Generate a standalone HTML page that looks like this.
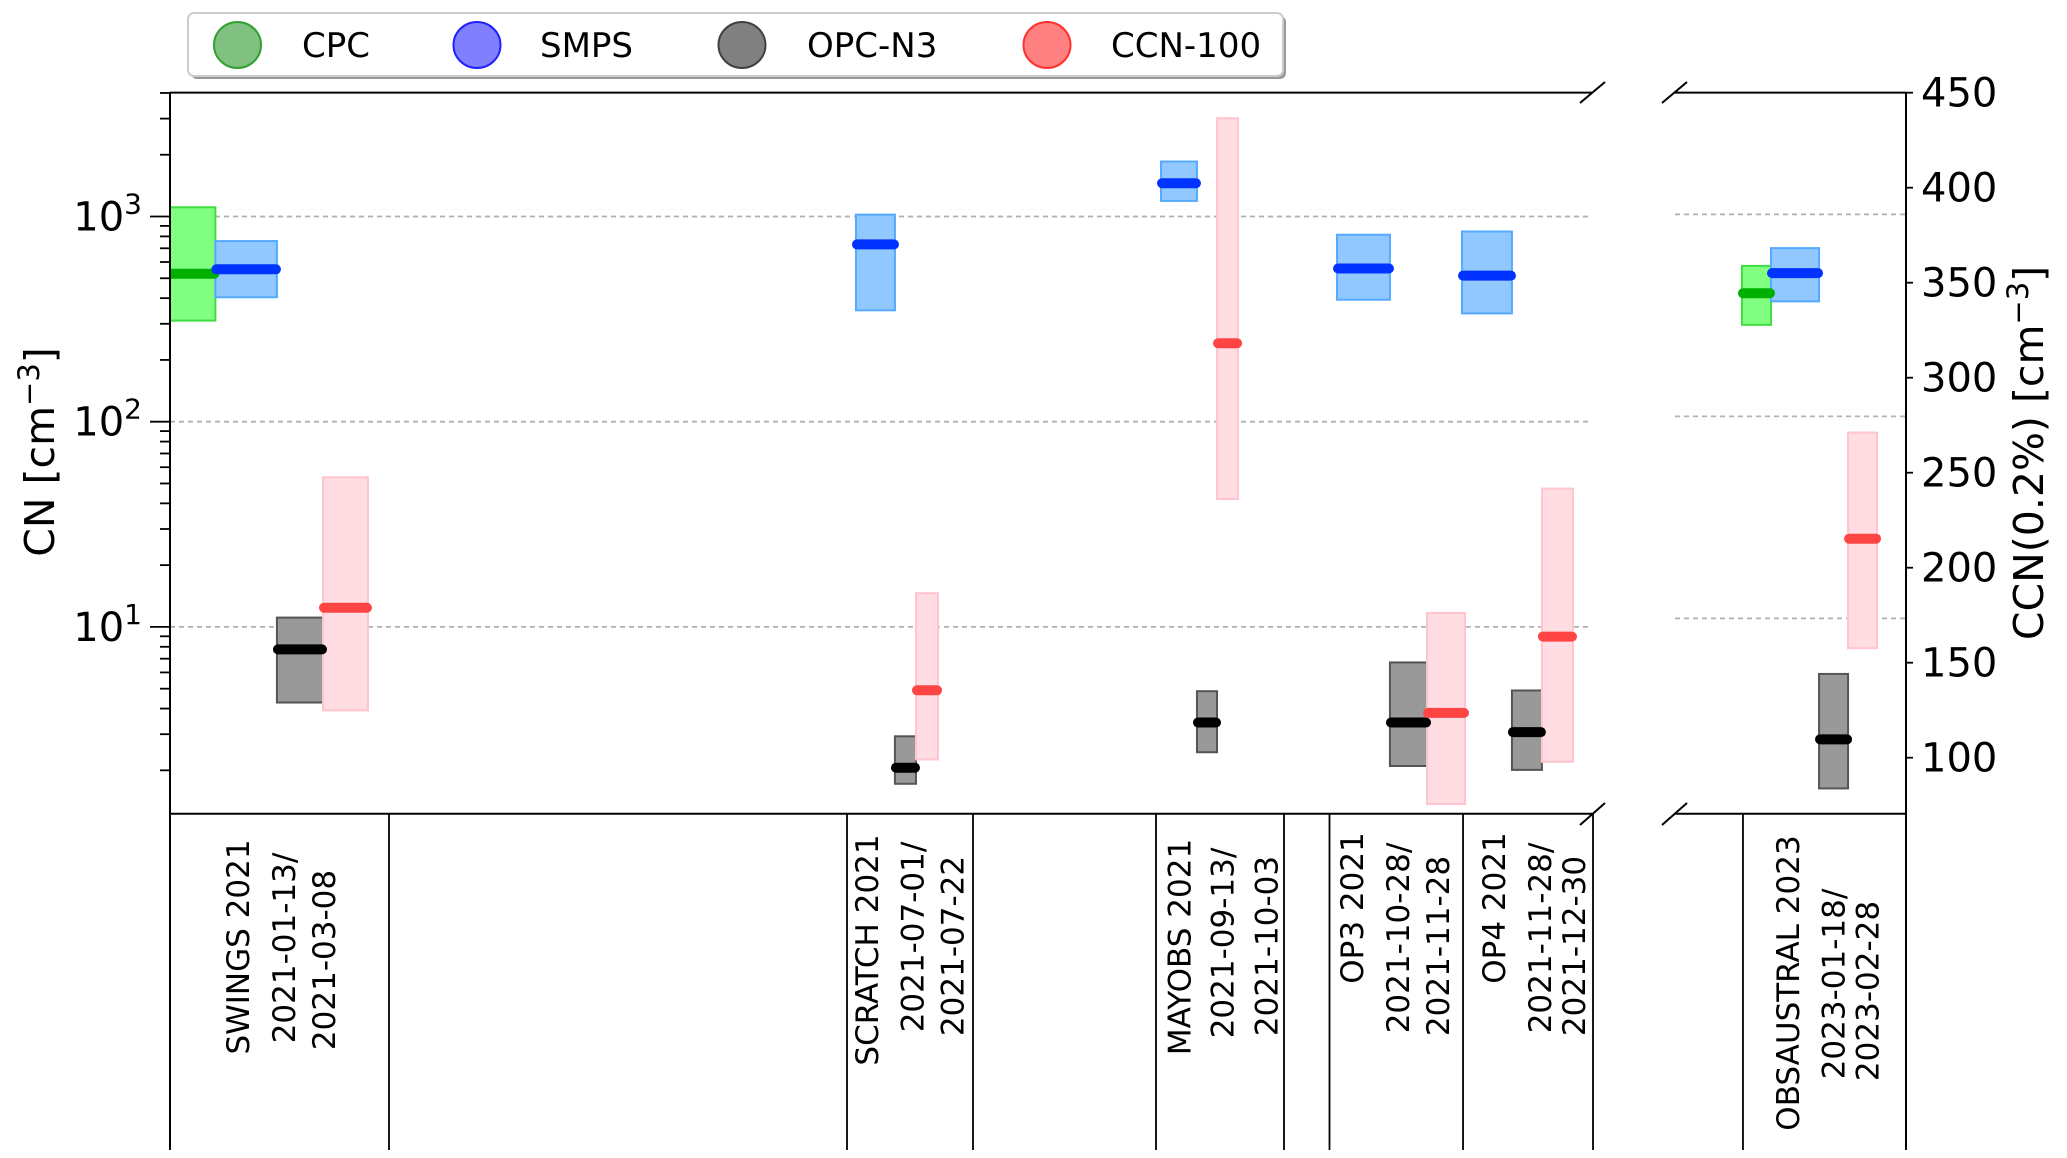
<!DOCTYPE html>
<html><head><meta charset="utf-8"><style>
html,body{margin:0;padding:0;background:#fff}
svg{display:block;font-family:"DejaVu Sans","Liberation Sans",sans-serif}
</style></head><body>
<svg id="chart" width="2067" height="1158" viewBox="0 0 2067 1158" xmlns="http://www.w3.org/2000/svg">
  <defs>
    <clipPath id="clipL"><rect x="170" y="92.6" width="1422" height="721"/></clipPath>
    <clipPath id="clipR"><rect x="1675" y="92.6" width="231" height="721"/></clipPath>
  </defs>
  <g id="grid"></g>
  <g id="marks"></g>
  <g id="axes"></g>
  <g id="table"></g>
  <g id="legend"></g>
</svg>
<script>
// ---- data ----
const campaigns = ['SWINGS 2021|2021-01-13/|2021-03-08','SCRATCH 2021|2021-07-01/|2021-07-22','MAYOBS 2021|2021-09-13/|2021-10-03','OP3 2021|2021-10-28/|2021-11-28','OP4 2021|2021-11-28/|2021-12-30','OBSAUSTRAL 2023|2023-01-18/|2023-02-28'];
const cpcLo  = [311, null, null, null, null, 284];
const cpcMed = [526, null, null, null, null, 407];
const cpcHi  = [1109, null, null, null, null, 556];
const cpcX0  = [0, null, null, null, null, 104.71];
const cpcX1  = [3.19, null, null, null, null, 106.75];
const smpsLo  = [404, 349, 1191, 393, 337, 371];
const smpsMed = [553, 731, 1452, 558, 515, 512];
const smpsHi  = [759, 1021, 1853, 815, 845, 681];
const smpsX0  = [3.19, 48.24, 69.69, 82.07, 90.86, 106.75];
const smpsX1  = [7.52, 50.98, 72.22, 85.79, 94.37, 110.13];
const opcLo  = [4.28, 1.72, 2.45, 2.10, 2.01, 1.44];
const opcMed = [7.77, 2.06, 3.42, 3.42, 3.07, 2.52];
const opcHi  = [11.1, 2.93, 4.86, 6.71, 4.90, 5.31];
const opcX0  = [7.52, 50.98, 72.22, 85.79, 94.37, 110.13];
const opcX1  = [10.76, 52.46, 73.63, 88.40, 96.48, 112.17];
const ccnLo  = [3.92, 2.26, 42, 1.37, 2.20, 7.12];
const ccnMed = [12.4, 4.91, 241, 3.81, 8.97, 24.8];
const ccnHi  = [53.6, 14.6, 3013, 11.7, 47.2, 83.2];
const ccnX0  = [10.76, 52.46, 73.63, 88.40, 96.48, 112.17];
const ccnX1  = [13.92, 54.01, 75.11, 91.07, 98.66, 114.21];
const tableSep = [15.4, 47.61, 56.47, 69.34, 78.34, 81.54, 90.93, 104.78];
const labelX = [[4.85,8.09,10.9],[49.08,52.28,55.11],[71.05,74.07,77.17],[83.19,86.43,89.24],[93.17,96.41,98.8],[108.0,111.2,113.6]];
const labelY = [[947,948,960],[950,937,946],[947,943,946],[908,938,946],[908,938,946],[983,984,991]];
const leftTicks = [10, 100, 1000];
const leftTickLabels = ['1','2','3'];
const rightTicks = [100,150,200,250,300,350,400,450];

// ---- scales ----
const NS='http://www.w3.org/2000/svg';
function xs(u){ return u<=100 ? 170 + u*14.22 : 1675 + (u-100)*14.22; }
function ysL(v){ return 216.5 - (Math.log10(v)-3)*205.2; }
function ysR(v){ return 214.4 - (Math.log10(v)-3)*202; }
function ysFor(i){ return i===5 ? ysR : ysL; }
function yRight(v){ return 92.7 + (450-v)*1.9; }
function mk(tag, attrs, parent){ const e=document.createElementNS(NS,tag); for(const k in attrs) e.setAttribute(k,attrs[k]); parent.appendChild(e); return e; }

const grid=document.getElementById('grid'), marks=document.getElementById('marks'), axes=document.getElementById('axes'), table=document.getElementById('table'), legend=document.getElementById('legend');

// gridlines
leftTicks.forEach(v=>{
  const g1=mk('line',{x1:170,x2:1592,y1:ysL(v),y2:ysL(v),stroke:'#b0b0b0','stroke-width':1.8,'stroke-dasharray':'5,4'},grid);
  
  
  const g2=mk('line',{x1:1675,x2:1906,y1:ysR(v),y2:ysR(v),stroke:'#b0b0b0','stroke-width':1.8,'stroke-dasharray':'5,4'},grid);
  
  
});

// series drawing
const series=[
  {name:'cpc',lo:cpcLo,med:cpcMed,hi:cpcHi,x0:cpcX0,x1:cpcX1,fill:'#80ff80',edge:'#40dd40',line:'#00b000'},
  {name:'smps',lo:smpsLo,med:smpsMed,hi:smpsHi,x0:smpsX0,x1:smpsX1,fill:'#90c8ff',edge:'#55aaff',line:'#0033ff'},
  {name:'opc',lo:opcLo,med:opcMed,hi:opcHi,x0:opcX0,x1:opcX1,fill:'#999999',edge:'#555555',line:'#000000'},
  {name:'ccn',lo:ccnLo,med:ccnMed,hi:ccnHi,x0:ccnX0,x1:ccnX1,fill:'#ffdde3',edge:'#ffc4ce',line:'#ff4444'}
];
series.forEach(s=>{
  s.lo.forEach((lo,i)=>{
    if(lo===null) return;
    const ys=ysFor(i);
    const clip = i===5 ? 'url(#clipR)' : 'url(#clipL)';
    const x0=xs(s.x0[i]), x1=xs(s.x1[i]);
    const r=mk('rect',{x:x0,y:ys(s.hi[i]),width:x1-x0,height:ys(lo)-ys(s.hi[i]),fill:s.fill,stroke:s.edge,'stroke-width':2,'clip-path':clip},marks);
    
    
  });
});
series.forEach(s=>{
  s.med.forEach((m,i)=>{
    if(m===null) return;
    const ys=ysFor(i);
    const clip = i===5 ? 'url(#clipR)' : 'url(#clipL)';
    const x0=xs(s.x0[i]), x1=xs(s.x1[i]);
    const l=mk('line',{x1:x0+1,x2:x1-1,y1:ys(m),y2:ys(m),stroke:s.line,'stroke-width':10,'stroke-linecap':'round','clip-path':clip},marks);
    
    
  });
});

// axes spines
[[170,92.6,1592,92.6],[170,813.7,1592,813.7],[1675,92.6,1906,92.6],[1675,813.7,1906,813.7],[170,92.6,170,1150],[1906,92.6,1906,1150]].forEach(c=>{
  const l=mk('line',{x1:c[0],y1:c[1],x2:c[2],y2:c[3],stroke:'#000','stroke-width':2},axes);
  
  
});
// break marks
[[1580,103,1605,82],[1662,103,1687,82],[1580,825,1605,803],[1662,825,1687,803]].forEach(c=>{
  const l=mk('line',{x1:c[0],y1:c[1],x2:c[2],y2:c[3],stroke:'#000','stroke-width':2},axes);
  
  
});
// left log ticks
for(let d=0; d<=3; d++){
  for(let k=1;k<=9;k++){
    const v=k*Math.pow(10,d);
    const y=ysL(v);
    if(y<92 || y>814) continue;
    const len = k===1?20:10;
    const t=mk('line',{x1:170-len,x2:170,y1:y,y2:y,stroke:'#000','stroke-width':1.8},axes);
    
    
  }
}
leftTicks.forEach((v,i)=>{
  const t=mk('text',{x:142,y:ysL(v)+14,'text-anchor':'end','font-size':40,fill:'#000'},axes);
  
  
  t.textContent='10';
  const sup=mk('tspan',{dy:-17,'font-size':28},t);
  sup.textContent=leftTickLabels[i];
});
// right ticks
rightTicks.forEach(v=>{
  const y=yRight(v);
  const t=mk('line',{x1:1906,x2:1913,y1:y,y2:y,stroke:'#000','stroke-width':1.8},axes);
  
  
  const tl=mk('text',{x:1921,y:y+14,'font-size':40,fill:'#000'},axes);
  
  
  tl.textContent=v;
});
// axis titles
const yt=mk('text',{transform:'translate(54,452) rotate(-90)','text-anchor':'middle','font-size':41,fill:'#000'},axes);


yt.innerHTML='CN [cm<tspan dy="-15" font-size="29">−3</tspan><tspan dy="15">]</tspan>';
const yt2=mk('text',{transform:'translate(2043,453) rotate(-90)','text-anchor':'middle','font-size':41,fill:'#000'},axes);


yt2.innerHTML='CCN(0.2%) [cm<tspan dy="-15" font-size="29">−3</tspan><tspan dy="15">]</tspan>';

// table
tableSep.forEach(u=>{
  const l=mk('line',{x1:xs(u),x2:xs(u),y1:813.7,y2:1150,stroke:'#000','stroke-width':1.8},table);
  
  
});
const l2=mk('line',{x1:1593,x2:1593,y1:813.7,y2:1150,stroke:'#000','stroke-width':1.8},table);


campaigns.forEach((c,i)=>{
  c.split('|').forEach((line,j)=>{
    const t=mk('text',{transform:`translate(${xs(labelX[i][j])},${labelY[i][j]}) rotate(-90)`,'text-anchor':'middle','dominant-baseline':'central','font-size':31,fill:'#000'},table);
    
    
    t.textContent=line;
  });
});

// legend
const sh=mk('rect',{x:191,y:16,width:1095,height:63,rx:6,fill:'#999'},legend);


const box=mk('rect',{x:188,y:13,width:1095,height:63,rx:6,fill:'#fff',stroke:'#ccc','stroke-width':2},legend);


const legNames=['CPC','SMPS','OPC-N3','CCN-100'];
const legFill=['#80c080','#8080ff','#808080','#ff8080'];
const legEdge=['#30a030','#2020ff','#404040','#ff3030'];
const legCx=[237.5,477,742,1047];
const legTx=[302,540,807,1111];
legNames.forEach((n,i)=>{
  const g=mk('g',{},legend);
  
  
  const c=mk('ellipse',{cx:legCx[i],cy:45,rx:23.5,ry:23,fill:legFill[i],stroke:legEdge[i],'stroke-width':2},g);
  
  
  const t=mk('text',{x:legTx[i],y:57,'font-size':34,fill:'#000'},g);
  
  
  t.textContent=n;
});
</script>
</body></html>
